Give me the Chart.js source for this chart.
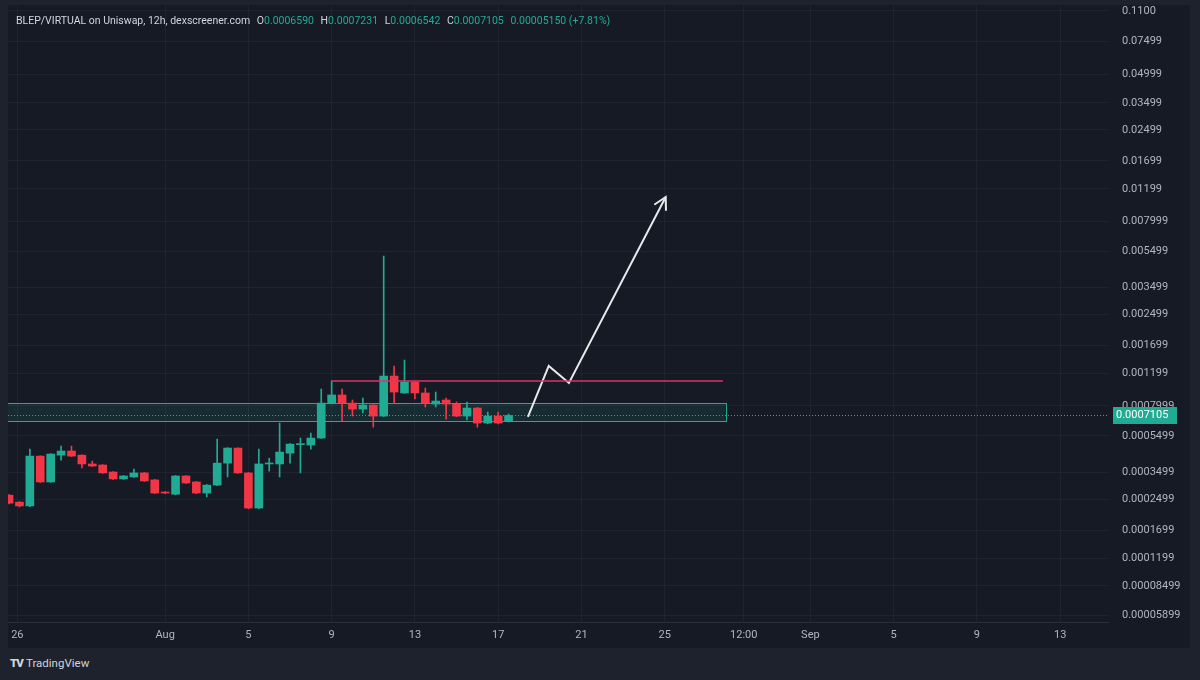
<!DOCTYPE html>
<html>
<head>
<meta charset="utf-8">
<script src="https://cdn.jsdelivr.net/npm/chart.js@4.4.1/dist/chart.umd.min.js"></script>
<style>
  body { margin: 0; background: #1e222d; width: 1200px; height: 680px; overflow: hidden; font-family: Roboto, sans-serif; }
  #wrap { position: absolute; left: 8px; top: 5px; width: 1182px; height: 643px; background: #161a25; }
  #legend { position: absolute; left: 8px; top: 9px; font-size: 10.5px; color: #d1d4dc; white-space: nowrap; }
  #legend span { margin-left: 4px; }
  #legend .v { color: #22ab94; margin-left: 0; }
  #logo { position: absolute; left: 10px; top: 656px; color: #d1d4dc; font-size: 11.5px; }
  #logo b { font-weight: 900; letter-spacing: -1px; margin-right: 3px; }
</style>
</head>
<body>
<div id="wrap">
  <canvas id="chart" width="1182" height="643"></canvas>
  <div id="legend">BLEP/VIRTUAL on Uniswap, 12h, dexscreener.com
    <span>O<span class="v">0.0006590</span></span>
    <span>H<span class="v">0.0007231</span></span>
    <span>L<span class="v">0.0006542</span></span>
    <span>C<span class="v">0.0007105</span></span>
    <span class="v" style="margin-left:4px">0.00005150 (+7.81%)</span>
  </div>
</div>
<div id="logo"><b>TV</b>TradingView</div>
<script>
// 12h candles, first one opens Jul 24 12:00 (day offsets relative to Aug 1)
const firstCandleDay = -7.5;
const opens  = [0.000263,0.000241,0.000230,0.000428,0.000310,0.000433,0.000456,0.000433,0.000388,0.000383,0.000351,0.000322,0.000330,0.000347,0.000318,0.000273,0.000266,0.000334,0.000310,0.000270,0.000298,0.000392,0.000473,0.000347,0.000224,0.000388,0.000388,0.000444,0.000494,0.000491,0.000536,0.000829,0.000917,0.000829,0.000769,0.000809,0.000705,0.001161,0.000940,0.001077,0.000940,0.000819,0.000861,0.000819,0.000705,0.000779,0.000646,0.000705,0.000659];
const highs  = [0.000265,0.000243,0.000467,0.000430,0.000441,0.000485,0.000485,0.000435,0.000402,0.000385,0.000353,0.000336,0.000364,0.000349,0.000320,0.000275,0.000336,0.000336,0.000312,0.000300,0.000529,0.000475,0.000475,0.000349,0.000467,0.000417,0.000646,0.000500,0.000536,0.000570,0.000988,0.001091,0.000988,0.000861,0.000883,0.000811,0.00518,0.001316,0.001417,0.001085,0.000999,0.000951,0.000883,0.000840,0.000840,0.000785,0.000741,0.000741,0.0007231];
const lows   = [0.000236,0.000227,0.000228,0.000308,0.000308,0.000407,0.000426,0.000369,0.000376,0.000345,0.000320,0.000320,0.000328,0.000312,0.000268,0.000268,0.000264,0.000304,0.000268,0.000257,0.000296,0.000330,0.000345,0.000222,0.000222,0.000355,0.000330,0.000392,0.000347,0.000467,0.000534,0.000820,0.000663,0.000705,0.000732,0.000614,0.000700,0.000829,0.000935,0.000872,0.000789,0.000789,0.000679,0.000700,0.000671,0.000614,0.000640,0.000640,0.0006542];
const closes = [0.000238,0.000230,0.000428,0.000310,0.000439,0.000456,0.000428,0.000388,0.000378,0.000347,0.000322,0.000334,0.000347,0.000314,0.000270,0.000270,0.000334,0.000306,0.000270,0.000298,0.000392,0.000473,0.000347,0.000224,0.000388,0.000392,0.000450,0.000497,0.000500,0.000536,0.000829,0.000917,0.000829,0.000769,0.000809,0.000705,0.001161,0.000951,0.001077,0.000940,0.000829,0.000850,0.000819,0.000705,0.000779,0.000646,0.000705,0.000646,0.0007105];

const xTickDays   = [-7.1, 0, 4, 8, 12, 16, 20, 24, 27.8, 31, 35, 39, 43];
const xTickLabels = ['26', 'Aug', '5', '9', '13', '17', '21', '25', '12:00', 'Sep', '5', '9', '13'];
const yTicks      = [0.11, 0.07499, 0.04999, 0.03499, 0.02499, 0.01699, 0.01199, 0.007999, 0.005499, 0.003499, 0.002499, 0.001699, 0.001199, 0.0007999, 0.0005499, 0.0003499, 0.0002499, 0.0001699, 0.0001199, 0.00008499, 0.00005899];
const yTickLabels = ['0.1100', '0.07499', '0.04999', '0.03499', '0.02499', '0.01699', '0.01199', '0.007999', '0.005499', '0.003499', '0.002499', '0.001699', '0.001199', '0.0007999', '0.0005499', '0.0003499', '0.0002499', '0.0001699', '0.0001199', '0.00008499', '0.00005899'];

// drawings on the chart
const zoneDays = [-7.6, 26.93];
const zoneRange = [0.000663, 0.000829];
const resistanceDays = [7.97, 26.8];
const resistanceLevel = 0.001091;
const arrowDays = [17.43, 18.43, 19.4, 24.05];
const arrowValues = [0.000698, 0.001316, 0.001064, 0.01082];

const UP = '#22ab94', DOWN = '#f23645';
const days = opens.map((_, i) => firstCandleDay + i * 0.5);
const colors = opens.map((o, i) => closes[i] >= o ? UP : DOWN);
const lastClose = closes[closes.length - 1];

const overlay = {
  id: 'overlay',
  beforeDatasetsDraw(chart) {
    const { ctx, chartArea: a, scales: { x, y } } = chart;
    ctx.save();
    ctx.beginPath(); ctx.rect(a.left, a.top, a.width, a.height); ctx.clip();
    const x0 = x.getPixelForValue(zoneDays[0]), x1 = x.getPixelForValue(zoneDays[1]);
    const yt = y.getPixelForValue(zoneRange[1]), yb = y.getPixelForValue(zoneRange[0]);
    ctx.fillStyle = 'rgba(34,171,148,0.12)';
    ctx.fillRect(x0, yt, x1 - x0, yb - yt);
    ctx.strokeStyle = UP; ctx.lineWidth = 1;
    ctx.strokeRect(Math.round(x0) + 0.5, Math.round(yt) + 0.5, Math.round(x1 - x0), Math.round(yb - yt));
    // last price dotted line
    const py = Math.round(y.getPixelForValue(lastClose)) + 0.5;
    ctx.setLineDash([1, 2]);
    ctx.beginPath(); ctx.moveTo(a.left, py); ctx.lineTo(a.right, py); ctx.stroke();
    ctx.restore();
  },
  afterDatasetsDraw(chart) {
    const { ctx, scales: { x, y } } = chart;
    const n = arrowDays.length;
    const px1 = x.getPixelForValue(arrowDays[n - 1]), py1 = y.getPixelForValue(arrowValues[n - 1]);
    const px0 = x.getPixelForValue(arrowDays[n - 2]), py0 = y.getPixelForValue(arrowValues[n - 2]);
    const ang = Math.atan2(py1 - py0, px1 - px0);
    ctx.save();
    ctx.strokeStyle = '#e8e8ec'; ctx.lineWidth = 2; ctx.lineCap = 'round';
    ctx.beginPath();
    ctx.moveTo(px1 + 13 * Math.cos(ang + Math.PI - 0.5), py1 + 13 * Math.sin(ang + Math.PI - 0.5));
    ctx.lineTo(px1, py1);
    ctx.lineTo(px1 + 13 * Math.cos(ang + Math.PI + 0.5), py1 + 13 * Math.sin(ang + Math.PI + 0.5));
    ctx.stroke();
    ctx.restore();
  },
  afterDraw(chart) {
    const { ctx, chartArea: a, scales: { y } } = chart;
    const py = y.getPixelForValue(lastClose);
    ctx.save();
    ctx.fillStyle = UP;
    ctx.fillRect(a.right + 5, Math.round(py) - 8, 64, 17);
    ctx.fillStyle = '#ffffff';
    ctx.font = '11px Roboto, sans-serif';
    ctx.textBaseline = 'middle';
    ctx.fillText(lastClose.toFixed(7), a.right + 8, Math.round(py) + 0.5);
    ctx.restore();
  }
};

new Chart(document.getElementById('chart'), {
  type: 'bar',
  data: {
    datasets: [
      {
        type: 'line',
        data: resistanceDays.map(d => ({ x: d, y: resistanceLevel })),
        borderColor: '#d8336a',
        borderWidth: 1.5,
        pointRadius: 0
      },
      {
        type: 'line',
        data: arrowDays.map((d, i) => ({ x: d, y: arrowValues[i] })),
        borderColor: '#e8e8ec',
        borderWidth: 2,
        pointRadius: 0,
        tension: 0
      },
      {
        data: days.map((d, i) => ({ x: d, y: [lows[i], highs[i]] })),
        backgroundColor: colors,
        barThickness: 1,
        grouped: false
      },
      {
        data: days.map((d, i) => ({ x: d, y: [opens[i], closes[i]] })),
        backgroundColor: colors,
        barThickness: 8,
        minBarLength: 1,
        grouped: false
      }
    ]
  },
  options: {
    responsive: false,
    animation: false,
    layout: { padding: 0 },
    plugins: { legend: { display: false }, tooltip: { enabled: false } },
    scales: {
      x: {
        type: 'linear',
        min: -7.55,
        max: 45.3,
        offset: false,
        grid: { offset: false, color: '#1f2330', drawTicks: false },
        border: { display: true, color: '#2a2e39' },
        ticks: {
          autoSkip: false,
          maxRotation: 0,
          padding: 7,
          color: '#b2b5be',
          font: { family: 'Roboto', size: 11 },
          callback: (v, i) => xTickLabels[i]
        },
        afterBuildTicks: s => { s.ticks = xTickDays.map(v => ({ value: v })); },
        afterFit: s => { s.height = 26; s.paddingLeft = 0; s.paddingRight = 0; }
      },
      y: {
        type: 'logarithmic',
        position: 'right',
        min: 0.0000541,
        max: 0.1185,
        bounds: 'data',
        beginAtZero: false,
        grid: { color: '#1f2330', drawTicks: false },
        border: { display: false },
        ticks: {
          autoSkip: false,
          padding: 14,
          color: '#b2b5be',
          font: { family: 'Roboto', size: 11 },
          callback: (v, i) => yTickLabels[i]
        },
        afterBuildTicks: s => { s.ticks = yTicks.map(v => ({ value: v })); },
        afterFit: s => { s.width = 82; s.paddingTop = 0; s.paddingBottom = 0; }
      }
    }
  },
  plugins: [overlay]
});
</script>
</body>
</html>
